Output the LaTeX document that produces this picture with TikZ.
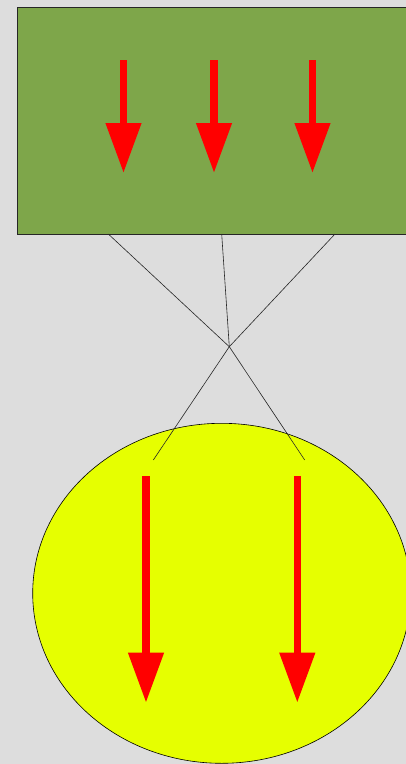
\documentclass[tikz,border=0pt]{standalone}
\usetikzlibrary{arrows.meta,shapes.geometric}
\definecolor{bg}{HTML}{DDDDDD}
\definecolor{boxgreen}{HTML}{7EA64A}
\definecolor{ovalyellow}{HTML}{E6FF00}
\definecolor{arrred}{HTML}{FF0000}
\tikzset{
  bigarrow/.style={draw=arrred, line width=7.5pt, -{Triangle[length=50pt,width=34pt,fill=arrred]}},
  wire/.style={draw=black!85, line width=0.6pt},
}
\begin{document}
\begin{tikzpicture}[x=1pt,y=-1pt]
\fill[bg] (0,0) rectangle (406,764);
\useasboundingbox (0,0) rectangle (406,764);
\clip (0,0) rectangle (406,764);
% top box
\node[rectangle, draw=black!85, line width=0.8pt, fill=boxgreen, anchor=north west,
      minimum width=394pt, minimum height=226.7pt, inner sep=0pt, outer sep=0pt] (box) at (17.5,7.3) {};
% ellipse
\node[ellipse, draw=black, line width=0.6pt, fill=ovalyellow, minimum width=378pt,
      minimum height=340pt, inner sep=0pt, outer sep=0pt] (oval) at (221.7,593.3) {};
% arrows in box
\coordinate (t1s) at (123.5,60); \coordinate (t1e) at (123.5,173);
\coordinate (t2s) at (214,60);   \coordinate (t2e) at (214,173);
\coordinate (t3s) at (312.5,60); \coordinate (t3e) at (312.5,173);
\draw[bigarrow] (t1s) -- (t1e);
\draw[bigarrow] (t2s) -- (t2e);
\draw[bigarrow] (t3s) -- (t3e);
% arrows in ellipse
\coordinate (b1s) at (146,476); \coordinate (b1e) at (146,702.7);
\coordinate (b2s) at (297.3,476); \coordinate (b2e) at (297.3,702.7);
\draw[bigarrow] (b1s) -- (b1e);
\draw[bigarrow] (b2s) -- (b2e);
% connectors
\coordinate (a1) at (108.3,234);
\coordinate (a2) at (221.7,234);
\coordinate (a3) at (335,234);
\coordinate (hub) at (229.3,346.7);
\coordinate (e1) at (153.3,460);
\coordinate (e2) at (304.7,460);
\draw[wire] (a1) -- (hub);
\draw[wire] (a2) -- (hub);
\draw[wire] (a3) -- (hub);
\draw[wire] (hub) -- (e1);
\draw[wire] (hub) -- (e2);
\end{tikzpicture}
\end{document}
